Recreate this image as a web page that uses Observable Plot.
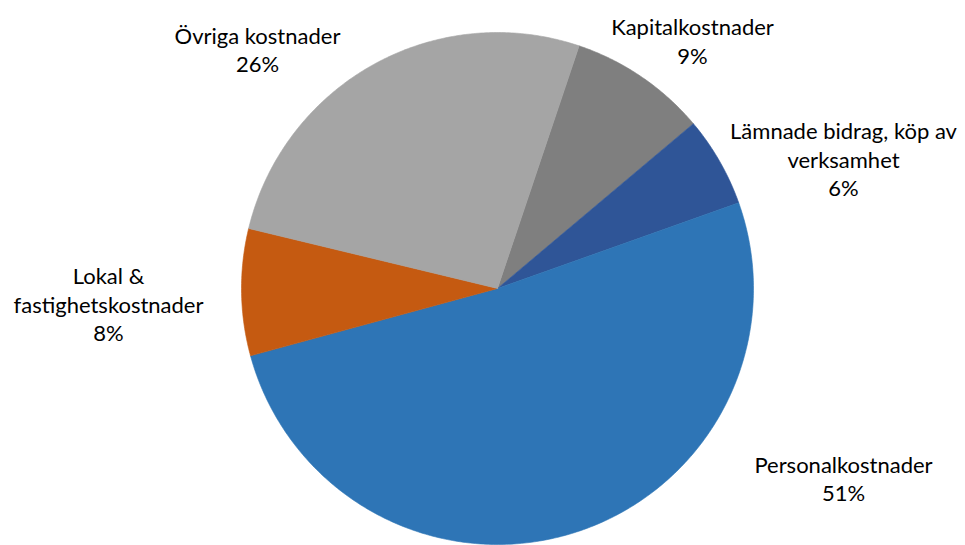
<!DOCTYPE html>
<html>
<head>
<meta charset="utf-8">
<script src="https://cdn.jsdelivr.net/npm/d3@7"></script>
<script src="https://cdn.jsdelivr.net/npm/@observablehq/plot@0.6"></script>
<style>
  html, body { margin: 0; padding: 0; background: #ffffff; }
  #chart svg { display: block; }
</style>
</head>
<body>
<div id="chart"></div>
<script>
// ---- data ----
const categories = ["Kapitalkostnader", "Lämnade bidrag, köp av verksamhet", "Personalkostnader", "Lokal & fastighetskostnader", "Övriga kostnader"];
const labelTexts = ["Kapitalkostnader", "Lämnade bidrag, köp av\nverksamhet", "Personalkostnader", "Lokal &\nfastighetskostnader", "Övriga kostnader"];
const shares = [8.7, 5.7, 51.2, 8.0, 26.4];
const colors = ["#7F7F7F", "#2F5597", "#2E75B6", "#C55A11", "#A5A5A5"];

// ---- layout ----
const W = 965, H = 545;
const cx = 497, cy = 288, R = 256;
const startDeg = 18.6;
// label block centers, in pie-radius units relative to pie center
const labelOffsets = [[0.7617, 0.9688], [1.3516, 0.5078], [1.3516, -0.7402], [-1.5195, -0.0586], [-0.9375, 0.9355]];

const pie = d3.pie().sort(null).value(d => d.value)
  .startAngle(startDeg * Math.PI / 180)
  .endAngle(startDeg * Math.PI / 180 + 2 * Math.PI);
const rows = categories.map((name, i) => ({name, value: shares[i], label: labelTexts[i]}));
const arcs = pie(rows);

const slicePts = [];
arcs.forEach(a => {
  slicePts.push({name: a.data.name, x: 0, y: 0});
  const n = Math.max(2, Math.ceil((a.endAngle - a.startAngle) / 0.01));
  for (let k = 0; k <= n; k++) {
    const t = a.startAngle + (a.endAngle - a.startAngle) * k / n;
    slicePts.push({name: a.data.name, x: Math.sin(t), y: Math.cos(t)});
  }
  slicePts.push({name: a.data.name, x: 0, y: 0});
});

const labels = arcs.map((a, i) => ({
  name: a.data.name,
  x: labelOffsets[i][0],
  y: labelOffsets[i][1],
  text: a.data.label + "\n" + Math.round(a.data.value) + "%"
}));

const chart = Plot.plot({
  width: W,
  height: H,
  margin: 0,
  style: {fontFamily: "Lato, 'Open Sans', sans-serif", background: "#ffffff"},
  x: {domain: [-1, 1], range: [cx - R, cx + R], axis: null},
  y: {domain: [-1, 1], range: [cy + R, cy - R], axis: null},
  color: {domain: categories, range: colors},
  marks: [
    Plot.line(slicePts, {x: "x", y: "y", z: "name", fill: "name", stroke: "name", strokeWidth: 0.6, curve: "linear"}),
    Plot.text(labels, {x: "x", y: "y", text: "text", fontSize: 22, lineHeight: 1.29, lineAnchor: "middle", textAnchor: "middle", fill: "#000000"})
  ]
});
document.getElementById("chart").appendChild(chart);
</script>
</body>
</html>
